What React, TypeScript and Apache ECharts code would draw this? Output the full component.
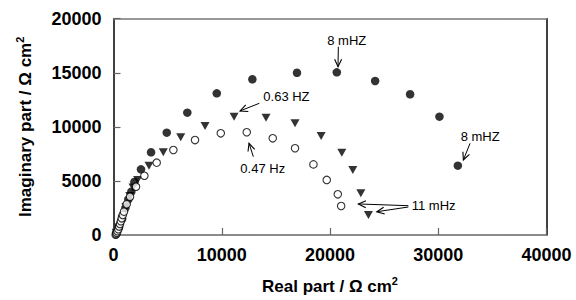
import React, { useEffect, useRef } from "react";
import * as echarts from "echarts";

// Axis ticks
const xTicks = [0, 10000, 20000, 30000, 40000];
const yTicks = [0, 5000, 10000, 15000, 20000];

// Series 1: filled circles
const filledRe = [250, 500, 800, 1100, 1370, 1650, 1925, 2540, 3470, 4920, 6820, 9540, 12830, 16950, 20630, 24170, 27400, 30110, 31810];
const filledIm = [200, 700, 1500, 2500, 3300, 4000, 4900, 6070, 7650, 9460, 11310, 13100, 14400, 15000, 15040, 14240, 13010, 10940, 6410];

// Series 2: filled down-triangles
const triRe = [250, 500, 800, 1150, 1500, 1800, 2230, 3280, 4600, 6210, 8460, 11140, 14090, 16770, 19180, 21090, 22110, 22850, 23550];
const triIm = [200, 700, 1500, 2600, 3600, 4400, 5090, 6410, 7650, 9030, 10080, 10940, 10850, 10330, 9150, 7610, 6010, 3860, 1850];

// Series 3: open circles
const openRe = [200, 250, 300, 370, 445, 520, 600, 680, 760, 860, 970, 1220, 1525, 2080, 2850, 3990, 5530, 7530, 9910, 12310, 14710, 16770, 18470, 19700, 20720, 21030];
const openIm = [30, 100, 200, 350, 525, 780, 1020, 1280, 1540, 1850, 2160, 2840, 3540, 4470, 5480, 6690, 7860, 8780, 9400, 9500, 8940, 8020, 6530, 5090, 3760, 2680];

// Annotation arrows (data coordinates: from -> to)
const arrowFromRe = [20770, 32940, 13470, 12920, 27240, 27240];
const arrowFromIm = [17410, 8480, 12180, 7240, 2710, 2590];
const arrowToRe = [20740, 32320, 11690, 12520, 22620, 24320];
const arrowToIm = [15560, 6940, 11470, 8480, 2870, 2150];

// Annotation texts (data coordinates)
const noteTexts = ["8 mHZ", "8 mHZ", "0.63 HZ", "0.47 Hz", "11 mHz"];
const noteRe = [21550, 33870, 13840, 13790, 27550];
const noteIm = [18030, 9150, 12790, 6170, 2710];
const noteAlign = ["center", "center", "left", "center", "left"];

const FONT = "'Liberation Sans', Arial, Helvetica, sans-serif";

const nameStyle = {
  fontFamily: FONT,
  fontWeight: "bold",
  fontSize: 17,
  color: "#000",
  lineHeight: 22,
  rich: {
    m: { fontFamily: FONT, fontWeight: "bold", fontSize: 17, color: "#000", lineHeight: 22 },
    sup: { fontFamily: FONT, fontWeight: "bold", fontSize: 11, color: "#000", lineHeight: 11, verticalAlign: "top" },
  },
};

export default function App() {
  const ref = useRef<HTMLDivElement>(null);
  useEffect(() => {
    if (!ref.current) return;
    const chart = echarts.init(ref.current, null, { renderer: "svg" });
    const zip = (a: number[], b: number[]) => a.map((v, i) => [v, b[i]]);
    const arrowData = arrowFromRe.map((_, i) => [arrowFromRe[i], arrowFromIm[i], arrowToRe[i], arrowToIm[i]]);
    const noteData = noteTexts.map((_, i) => [noteRe[i], noteIm[i], i]);

    const option: any = {
      animation: false,
      backgroundColor: "#fff",
      grid: { left: 113.5, right: 29.5, top: 18.7, bottom: 65, outerBoundsMode: "none" },
      xAxis: [
        {
          type: "value",
          min: xTicks[0],
          max: xTicks[xTicks.length - 1],
          interval: xTicks[1] - xTicks[0],
          name: "{m|Real part / \u03A9 cm}{sup|2}",
          nameLocation: "middle",
          nameGap: 40,
          nameTextStyle: nameStyle,
          axisLine: { show: true, onZero: false, lineStyle: { color: "#666", width: 1.5 } },
          axisTick: { show: true, inside: true, length: 7, lineStyle: { color: "#666", width: 1.2 } },
          axisLabel: { margin: 11, fontFamily: FONT, fontWeight: "bold", fontSize: 18, color: "#000", formatter: (v: number) => String(v) },
          splitLine: { show: false },
        },
        {
          type: "value",
          position: "top",
          min: xTicks[0],
          max: xTicks[xTicks.length - 1],
          axisLine: { show: true, onZero: false, lineStyle: { color: "#777", width: 1.5 } },
          axisTick: { show: false },
          axisLabel: { show: false },
          splitLine: { show: false },
        },
      ],
      yAxis: [
        {
          type: "value",
          min: yTicks[0],
          max: yTicks[yTicks.length - 1],
          interval: yTicks[1] - yTicks[0],
          name: "{m|Imaginary part / \u03A9 cm}{sup|2}",
          nameLocation: "middle",
          nameGap: 77,
          nameTextStyle: nameStyle,
          axisLine: { show: true, onZero: false, lineStyle: { color: "#000", width: 1.5 } },
          axisTick: { show: true, inside: true, length: 7, lineStyle: { color: "#666", width: 1.2 } },
          axisLabel: { margin: 12, fontFamily: FONT, fontWeight: "bold", fontSize: 18, color: "#000", formatter: (v: number) => String(v) },
          splitLine: { show: false },
        },
        {
          type: "value",
          position: "right",
          min: yTicks[0],
          max: yTicks[yTicks.length - 1],
          axisLine: { show: true, onZero: false, lineStyle: { color: "#000", width: 1.5 } },
          axisTick: { show: false },
          axisLabel: { show: false },
          splitLine: { show: false },
        },
      ],
      series: [
        {
          type: "scatter",
          data: zip(filledRe, filledIm),
          symbol: "circle",
          symbolSize: 8.5,
          itemStyle: { color: "#000" },
          z: 2,
        },
        {
          type: "scatter",
          data: zip(triRe, triIm),
          symbol: "triangle",
          symbolRotate: 180,
          symbolSize: [9, 8],
          itemStyle: { color: "#000" },
          z: 3,
        },
        {
          type: "scatter",
          data: zip(openRe, openIm),
          symbol: "circle",
          symbolSize: 7.5,
          itemStyle: { color: "#fff", borderColor: "#000", borderWidth: 1.1 },
          z: 4,
        },
        {
          type: "custom",
          data: arrowData,
          silent: true,
          z: 5,
          encode: { x: [0, 2], y: [1, 3] },
          renderItem: (params: any, api: any) => {
            const p1 = api.coord([api.value(0), api.value(1)]);
            const p2 = api.coord([api.value(2), api.value(3)]);
            const dx = p2[0] - p1[0];
            const dy = p2[1] - p1[1];
            const len = Math.hypot(dx, dy) || 1;
            const ux = dx / len;
            const uy = dy / len;
            const h = 7.5;
            const w = 3.5;
            const bx = p2[0] - ux * h;
            const by = p2[1] - uy * h;
            const left = [bx - uy * w, by + ux * w];
            const right = [bx + uy * w, by - ux * w];
            return {
              type: "group",
              children: [
                { type: "line", shape: { x1: p1[0], y1: p1[1], x2: p2[0], y2: p2[1] }, style: { stroke: "#000", lineWidth: 1 } },
                { type: "polyline", shape: { points: [left, p2, right] }, style: { stroke: "#000", lineWidth: 1.1, fill: null } },
              ],
            };
          },
        },
        {
          type: "custom",
          data: noteData,
          silent: true,
          z: 6,
          encode: { x: 0, y: 1 },
          renderItem: (params: any, api: any) => {
            const p = api.coord([api.value(0), api.value(1)]);
            const i = api.value(2);
            return {
              type: "text",
              x: p[0],
              y: p[1],
              style: {
                text: noteTexts[i],
                fontFamily: FONT,
                fontSize: 13,
                fill: "#000",
                align: noteAlign[i],
                verticalAlign: "middle",
              },
            };
          },
        },
      ],
    };
    chart.setOption(option);
    return () => chart.dispose();
  }, []);
  return <div ref={ref} style={{ position: "fixed", left: 0, top: 0, width: 576, height: 300 }} />;
}
